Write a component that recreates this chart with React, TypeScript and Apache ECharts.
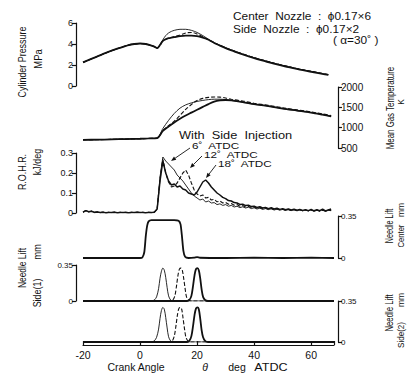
import React, { useEffect, useRef } from "react";
import * as echarts from "echarts";

// ---------- DATA ----------
// Cylinder pressure (MPa)
const pressAnglePre = [-20, -16, -12, -8, -4, -2, 0, 2, 4, 5, 6];
const pressPre = [2.25, 2.7, 3.15, 3.55, 3.9, 4.0, 4.05, 4.0, 3.85, 3.75, 3.6];
const pressAngleMid = [6, 7, 8, 9, 10, 11, 12, 14, 16, 18, 20, 22, 24];
const press6 = [3.6, 3.95, 4.4, 4.8, 5.05, 5.2, 5.3, 5.4, 5.4, 5.3, 5.1, 4.8, 4.45];
const press12 = [3.6, 3.9, 4.3, 4.45, 4.55, 4.62, 4.7, 4.85, 5.05, 5.1, 4.95, 4.7, 4.4];
const press18 = [3.6, 3.9, 4.3, 4.45, 4.55, 4.6, 4.65, 4.75, 4.8, 4.8, 4.75, 4.6, 4.4];
const pressAnglePost = [26, 28, 30, 33, 36, 40, 44, 48, 52, 56, 60, 63, 66];
const pressPostA = [4.1, 3.85, 3.6, 3.3, 3.0, 2.65, 2.35, 2.05, 1.8, 1.55, 1.35, 1.2, 1.05];
const pressPostB = [4.12, 3.88, 3.64, 3.34, 3.05, 2.7, 2.4, 2.1, 1.85, 1.6, 1.4, 1.24, 1.08];

// Mean gas temperature (K)
const tempAnglePre = [-20, -15, -10, -5, 0, 3, 6];
const tempPre = [700, 705, 712, 720, 728, 735, 745];
const tempAngleMid = [6, 8, 10, 12, 14, 16, 18, 20, 22, 24, 26, 28, 30];
const temp6 = [745, 980, 1180, 1350, 1480, 1560, 1610, 1645, 1670, 1690, 1700, 1700, 1690];
const temp12 = [745, 930, 1050, 1160, 1300, 1450, 1570, 1670, 1720, 1745, 1755, 1750, 1730];
const temp18 = [745, 920, 1030, 1130, 1220, 1300, 1370, 1440, 1510, 1580, 1640, 1670, 1680];
const tempAnglePost = [32, 36, 40, 45, 50, 55, 60, 64, 67];
const tempPostA = [1670, 1630, 1580, 1530, 1470, 1420, 1370, 1320, 1280];
const tempPostB = [1700, 1655, 1600, 1548, 1490, 1438, 1388, 1338, 1298];

// Rate of heat release (kJ/deg), sampled every 1 deg
const rohrStartPre = -20; // first angle of rohrPre
const rohrStartBurn = 6; // first angle of the burn arrays
const rohrPre = [0.004, 0.012, 0.006, 0.009, 0.003, 0.005, 0.002, 0.004, 0.001, 0.003, 0.002, 0.004, 0.001,
  0.003, 0.002, 0.003, 0.001, 0.003, 0.002, 0.004, 0.002, 0.003, 0.001, 0.003, 0.002, 0.004];
const rohr6 = [0.02, 0.18, 0.28, 0.26, 0.245, 0.23, 0.215, 0.19, 0.175, 0.16, 0.14, 0.12, 0.1, 0.085, 0.075,
  0.065, 0.07, 0.055, 0.06, 0.05, 0.052, 0.042, 0.046, 0.038, 0.042, 0.034, 0.038, 0.03, 0.034, 0.027,
  0.031, 0.025, 0.029, 0.022, 0.026, 0.02, 0.024, 0.018, 0.022, 0.017, 0.021, 0.015, 0.019, 0.014, 0.018,
  0.013, 0.017, 0.012, 0.016, 0.011, 0.015, 0.011, 0.014, 0.01, 0.016, 0.009, 0.013, 0.01, 0.017, 0.008,
  0.014, 0.012];
const rohr12 = [0.02, 0.17, 0.27, 0.2, 0.155, 0.13, 0.135, 0.15, 0.175, 0.2, 0.215, 0.19, 0.15, 0.115, 0.095,
  0.085, 0.09, 0.075, 0.078, 0.065, 0.068, 0.056, 0.06, 0.05, 0.053, 0.044, 0.047, 0.039, 0.042, 0.034,
  0.037, 0.03, 0.033, 0.027, 0.03, 0.024, 0.027, 0.021, 0.025, 0.019, 0.023, 0.017, 0.021, 0.016, 0.019,
  0.014, 0.018, 0.013, 0.017, 0.012, 0.016, 0.011, 0.015, 0.011, 0.014, 0.01, 0.015, 0.009, 0.013, 0.011,
  0.016, 0.012];
const rohr18 = [0.02, 0.16, 0.26, 0.2, 0.16, 0.14, 0.145, 0.13, 0.135, 0.12, 0.115, 0.1, 0.095, 0.09, 0.105,
  0.13, 0.155, 0.165, 0.15, 0.13, 0.115, 0.1, 0.09, 0.078, 0.072, 0.062, 0.06, 0.052, 0.05, 0.043,
  0.044, 0.037, 0.039, 0.032, 0.034, 0.028, 0.031, 0.025, 0.028, 0.022, 0.026, 0.02, 0.024, 0.018, 0.022,
  0.016, 0.02, 0.015, 0.019, 0.014, 0.018, 0.013, 0.017, 0.012, 0.018, 0.011, 0.016, 0.012, 0.019, 0.01,
  0.015, 0.02];

// Needle lift, center nozzle (mm)
const centerAngles = [-20, -10, 0, 0.8, 1.5, 2, 2.5, 3, 4, 8, 12, 13.5, 14.2, 14.7, 15.2, 15.8, 17, 19, 20, 21, 30, 40, 50, 60, 68];
const centerLift = [0, 0, 0, 0.005, 0.05, 0.18, 0.27, 0.305, 0.315, 0.315, 0.315, 0.31, 0.28, 0.18, 0.06, 0.01, 0, 0.003, 0.008, 0.002, 0, 0.002, 0, 0.002, 0];

// Needle lift, side nozzle (1) (mm)
const side1Angles6 = [-20, 4, 5, 5.8, 6.5, 7, 7.5, 8, 8.5, 9, 9.5, 10, 10.7, 11.5, 68];
const side1Lift6 = [0, 0, 0.01, 0.04, 0.12, 0.22, 0.29, 0.32, 0.3, 0.23, 0.13, 0.05, 0.01, 0, 0];
const side1Angles12 = [-20, 10.5, 11.5, 12.2, 12.8, 13.3, 13.8, 14.3, 14.8, 15.3, 15.8, 16.3, 17, 18, 68];
const side1Lift12 = [0, 0, 0.01, 0.05, 0.15, 0.25, 0.31, 0.32, 0.3, 0.22, 0.12, 0.04, 0.01, 0, 0];
const side1Angles18 = [-20, 16.5, 17.3, 18, 18.6, 19.1, 19.6, 20.1, 20.6, 21.1, 21.6, 22.1, 22.8, 23.8, 68];
const side1Lift18 = [0, 0, 0.01, 0.05, 0.15, 0.25, 0.31, 0.32, 0.3, 0.22, 0.11, 0.04, 0.01, 0, 0];

// Needle lift, side nozzle (2) (mm)
const side2Angles6 = [-20, 4, 5, 5.8, 6.5, 7, 7.5, 8, 8.5, 9, 9.5, 10, 10.7, 11.5, 68];
const side2Lift6 = [0, 0, 0.01, 0.04, 0.11, 0.2, 0.27, 0.295, 0.28, 0.21, 0.12, 0.045, 0.01, 0, 0];
const side2Angles12 = [-20, 10.3, 11.3, 12, 12.6, 13.1, 13.6, 14.1, 14.6, 15.1, 15.6, 16.1, 16.8, 17.8, 68];
const side2Lift12 = [0, 0, 0.01, 0.05, 0.14, 0.23, 0.285, 0.295, 0.28, 0.2, 0.11, 0.04, 0.01, 0, 0];
const side2Angles18 = [-20, 16.5, 17.3, 18, 18.6, 19.1, 19.6, 20.1, 20.6, 21.1, 21.6, 22.1, 22.8, 23.8, 68];
const side2Lift18 = [0, 0, 0.01, 0.05, 0.14, 0.23, 0.285, 0.295, 0.28, 0.2, 0.1, 0.04, 0.01, 0, 0];

// Axis ticks
const crankMin = -20;
const crankMax = 68;
const crankStep = 20;

// ---------- HELPERS ----------
const FONT = "'Liberation Sans', Arial, sans-serif";
const INK = "#111";

function pairs(xs: number[], ys: number[]) {
  const n = Math.min(xs.length, ys.length);
  const out: number[][] = [];
  for (let i = 0; i < n; i++) out.push([xs[i], ys[i]]);
  return out;
}
function seq(start: number, vals: number[]) {
  return vals.map((v, i) => [start + i, v]);
}

const thin = { color: INK, width: 0.9 };
const dashed = { color: INK, width: 1.1, type: [4, 2] as any };
const thick = { color: INK, width: 1.8 };

function vtext(x: number, y: number, text: string, fontSize: number, scaleX = 1) {
  return {
    type: "text",
    x,
    y,
    rotation: Math.PI / 2,
    scaleX,
    style: {
      text,
      fontSize,
      fontFamily: FONT,
      fill: INK,
      textAlign: "center",
      textVerticalAlign: "middle",
    },
  };
}
function htext(x: number, y: number, text: string, fontSize: number, align = "left", extra: any = {}, scaleX = 1) {
  return {
    type: "text",
    x,
    y,
    scaleX,
    style: {
      text,
      fontSize,
      fontFamily: FONT,
      fill: INK,
      textAlign: align,
      textVerticalAlign: "middle",
      ...extra,
    },
  };
}
function arrow(x1: number, y1: number, x2: number, y2: number) {
  const dx = x2 - x1, dy = y2 - y1;
  const L = Math.hypot(dx, dy);
  const ux = dx / L, uy = dy / L;
  const bx = x2 - ux * 5, by = y2 - uy * 5;
  const px = -uy * 2, py = ux * 2;
  return [
    { type: "line", shape: { x1, y1, x2: bx, y2: by }, style: { stroke: INK, lineWidth: 0.9 } },
    { type: "polygon", shape: { points: [[x2, y2], [bx + px, by + py], [bx - px, by - py]] }, style: { fill: INK } },
  ];
}

export default function App() {
  const ref = useRef<HTMLDivElement>(null);

  useEffect(() => {
    if (!ref.current) return;
    const chart = echarts.init(ref.current, undefined, { renderer: "svg" });

    const gl = 83, gr = 73;
    const grids = [
      { left: gl, right: gr, top: 23, height: 63 },
      { left: gl, right: gr, top: 87, height: 61 },
      { left: gl, right: gr, top: 153, height: 60 },
      { left: gl, right: gr, top: 216, height: 42 },
      { left: gl, right: gr, top: 265, height: 36 },
      { left: gl, right: gr, top: 301, height: 41 },
    ];

    const xAxes = grids.map((_, i) => {
      const last = i === grids.length - 1;
      return {
        type: "value",
        gridIndex: i,
        min: crankMin,
        max: crankMax,
        interval: crankStep,
        show: last,
        offset: last ? 3 : 0,
        axisLine: { show: true, onZero: false, lineStyle: { color: INK, width: 1.2 } },
        axisTick: { show: true, inside: true, length: 4, lineStyle: { color: INK, width: 1.2 } },
        axisLabel: {
          color: INK,
          fontSize: 10.5,
          fontFamily: FONT,
          margin: 4,
          formatter: (v: number) => (v % crankStep === 0 ? String(v) : ""),
        },
        splitLine: { show: false },
      };
    });

    const yBase = (i: number, pos: string, min: number, max: number, interval: number, fmt: (v: number) => string, fontSize: number) => ({
      type: "value",
      gridIndex: i,
      position: pos,
      offset: pos === "left" ? 7 : 4,
      min,
      max,
      interval,
      axisLine: { show: true, onZero: false, lineStyle: { color: INK, width: 1.2 } },
      axisTick: { show: true, inside: false, length: 4, lineStyle: { color: INK, width: 1.2 } },
      axisLabel: { color: INK, fontSize, fontFamily: FONT, margin: 3, formatter: fmt },
      splitLine: { show: false },
    });

    const liftFmt = (v: number) => (v === 0 ? "0" : "0.35");
    const yAxes = [
      yBase(0, "left", 0, 6, 2, (v) => String(v), 9),
      yBase(1, "right", 500, 2000, 500, (v) => String(v), 10),
      yBase(2, "left", 0, 0.3, 0.1, (v) => (v === 0 ? "0" : v.toFixed(1)), 9),
      yBase(3, "right", 0, 0.35, 0.35, liftFmt, 8),
      yBase(4, "left", 0, 0.35, 0.35, liftFmt, 8),
      yBase(5, "right", 0, 0.35, 0.35, liftFmt, 8),
    ];

    const line = (idx: number, data: number[][], style: any, smooth: number | boolean = false) => ({
      type: "line",
      xAxisIndex: idx,
      yAxisIndex: idx,
      data,
      showSymbol: false,
      symbol: "none",
      smooth,
      silent: true,
      lineStyle: style,
    });

    const pressX = [...pressAnglePre, ...pressAngleMid.slice(1), ...pressAnglePost];
    const tempX = [...tempAnglePre, ...tempAngleMid.slice(1), ...tempAnglePost];
    const rohrPrePts = seq(rohrStartPre, rohrPre);

    const series = [
      line(0, pairs(pressX, [...pressPre, ...press6.slice(1), ...pressPostB]), thin, 0.3),
      line(0, pairs(pressX, [...pressPre, ...press12.slice(1), ...pressPostB]), dashed, 0.3),
      line(0, pairs(pressX, [...pressPre, ...press18.slice(1), ...pressPostA]), thick, 0.3),

      line(1, pairs(tempX, [...tempPre, ...temp6.slice(1), ...tempPostA]), thin, 0.3),
      line(1, pairs(tempX, [...tempPre, ...temp12.slice(1), ...tempPostB]), dashed, 0.3),
      line(1, pairs(tempX, [...tempPre, ...temp18.slice(1), ...tempPostA]), thick, 0.3),

      line(2, [...rohrPrePts, ...seq(rohrStartBurn, rohr6)], { color: INK, width: 0.9 }),
      line(2, [...rohrPrePts, ...seq(rohrStartBurn, rohr12)], dashed),
      line(2, [...rohrPrePts, ...seq(rohrStartBurn, rohr18)], { color: INK, width: 1.5 }),

      line(3, pairs(centerAngles, centerLift), thick, 0.2),

      line(4, pairs(side1Angles6, side1Lift6), thin, 0.3),
      line(4, pairs(side1Angles12, side1Lift12), dashed, 0.3),
      line(4, pairs(side1Angles18, side1Lift18), thick, 0.3),

      line(5, pairs(side2Angles6, side2Lift6), thin, 0.3),
      line(5, pairs(side2Angles12, side2Lift12), dashed, 0.3),
      line(5, pairs(side2Angles18, side2Lift18), thick, 0.3),
    ];

    const graphic: any[] = [
      htext(233, 16, "Center  Nozzle  :  ϕ0.17×6", 10.5, "left", {}, 1.13),
      htext(233, 29, "Side  Nozzle  :  ϕ0.17×2", 10.5, "left", {}, 1.13),
      htext(333, 40, "( α=30˚ )", 10.5, "left", {}, 1.13),
      htext(179, 135, "With  Side  Injection", 10.5, "left", {}, 1.22),
      htext(192, 146, "6˚  ATDC", 9, "left", {}, 1.3),
      htext(204, 155, "12˚  ATDC", 9, "left", {}, 1.3),
      htext(218, 164, "18˚  ATDC", 9, "left", {}, 1.3),
      ...arrow(190, 148, 171, 161),
      ...arrow(202, 156, 190, 168),
      ...arrow(216, 165, 206, 178),

      vtext(22, 62, "Cylinder Pressure", 10.5, 0.85),
      vtext(38, 59, "MPa", 10.5, 0.9),
      vtext(22, 172, "R.O.H.R.", 10.5, 0.85),
      vtext(37, 162, "kJ/deg", 10.5, 0.85),
      vtext(22, 268, "Needle Lift", 10.5, 0.8),
      vtext(37, 252, "mm", 10.5, 0.9),
      vtext(37, 293, "Side(1)", 10.5, 0.85),

      vtext(391, 108, "Mean Gas Temperature", 10.5, 0.75),
      vtext(401, 102, "K", 9.5, 0.9),
      vtext(390, 226, "Needle Lift", 10, 0.72),
      vtext(401, 210, "mm", 9.5, 0.9),
      vtext(401, 236, "Center", 9.5, 0.8),
      vtext(390, 313, "Needle Lift", 10, 0.78),
      vtext(401, 300, "mm", 9.5, 0.9),
      vtext(401, 335, "Side(2)", 9.5, 0.85),

      htext(136, 367, "Crank Angle", 10.5, "center"),
      htext(205, 367, "θ", 10.5, "center", { fontStyle: "italic" }),
      htext(237, 367, "deg", 10.5, "center"),
      htext(271, 367, "ATDC", 10.5, "center", {}, 1.2),
    ];

    chart.setOption({
      animation: false,
      backgroundColor: "#fff",
      grid: grids,
      xAxis: xAxes,
      yAxis: yAxes,
      series,
      graphic,
    });

    return () => chart.dispose();
  }, []);

  return (
    <div
      ref={ref}
      style={{ position: "absolute", left: 0, top: 0, width: 407, height: 377, background: "#fff" }}
    />
  );
}
